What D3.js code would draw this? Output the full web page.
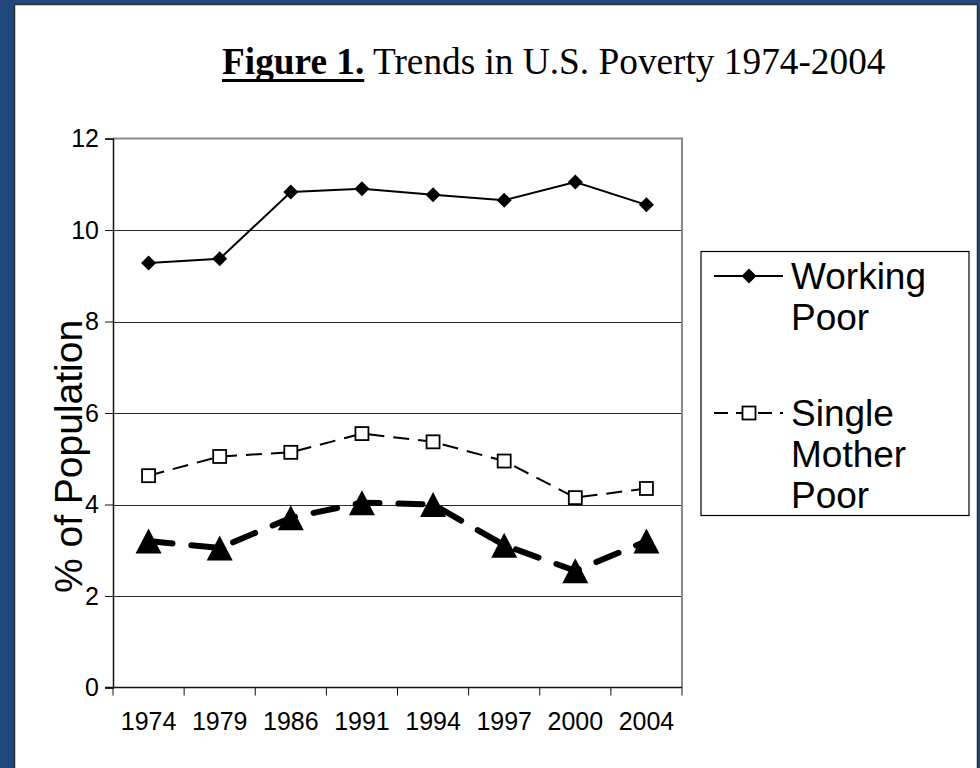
<!DOCTYPE html>
<html>
<head>
<meta charset="utf-8">
<script src="https://cdn.jsdelivr.net/npm/d3@7"></script>
<style>
  html, body { margin: 0; padding: 0; background: #1f497d; }
  svg { display: block; }
</style>
</head>
<body>
<svg id="chart" width="980" height="768"></svg>
<script>
// ---- data ----
const years = ["1974", "1979", "1986", "1991", "1994", "1997", "2000", "2004"];
const workingPoor = [9.28, 9.37, 10.83, 10.9, 10.77, 10.65, 11.05, 10.55];
const singleMotherPoor = [4.63, 5.05, 5.14, 5.55, 5.37, 4.95, 4.15, 4.35];
const seriesThree = [3.2, 3.05, 3.71, 4.04, 4.0, 3.11, 2.55, 3.2];
const yTicks = [0, 2, 4, 6, 8, 10, 12];
const legendLabels = [["Working", "Poor"], ["Single", "Mother", "Poor"]];

const svg = d3.select("#chart");
const SANS = "Arial, 'Liberation Sans', sans-serif";
const SERIF = "'Times New Roman', 'Liberation Serif', serif";

// slide background and white panel
svg.append("rect").attr("x", 0).attr("y", 0).attr("width", 980).attr("height", 768).attr("fill", "#1f497d");
svg.append("rect").attr("x", 14.5).attr("y", 4.5).attr("width", 963).attr("height", 770)
  .attr("fill", "#ffffff").attr("stroke", "#2b2f36").attr("stroke-width", 1.5);

// title
const title = svg.append("g").attr("transform", "translate(222,74)");
const boldPart = title.append("text")
  .attr("font-family", SERIF).attr("font-size", 37.3).attr("font-weight", "bold")
  .attr("fill", "#000").text("Figure 1.");
const boldW = boldPart.node().getComputedTextLength();
title.append("rect").attr("x", 0).attr("y", 5).attr("width", boldW).attr("height", 3).attr("fill", "#000");
title.append("text").attr("x", boldW)
  .attr("font-family", SERIF).attr("font-size", 37.3).attr("fill", "#000")
  .attr("xml:space", "preserve")
  .text(" Trends in U.S. Poverty 1974-2004");

// plot area
const plot = { left: 113, right: 682, top: 138.5, bottom: 687.5 };
const x = d3.scaleBand().domain(years).range([plot.left, plot.right]).padding(0);
const y = d3.scaleLinear().domain([0, 12]).range([plot.bottom, plot.top]);
const cx = d => x(d) + x.bandwidth() / 2;

// gridlines
svg.append("g").selectAll("line").data(yTicks.filter(t => t > 0 && t < 12)).join("line")
  .attr("x1", plot.left).attr("x2", plot.right)
  .attr("y1", d => Math.round(y(d)) + 0.5).attr("y2", d => Math.round(y(d)) + 0.5)
  .attr("stroke", "#2a2a2a").attr("stroke-width", 1);

// plot border (top and right in gray)
svg.append("path")
  .attr("d", `M${plot.left},${plot.top}H${plot.right}V${plot.bottom}`)
  .attr("fill", "none").attr("stroke", "#8a8a8a").attr("stroke-width", 2);

// y axis
const yAxis = d3.axisLeft(y).tickValues(yTicks).tickSize(8).tickPadding(6);
const gy = svg.append("g").attr("transform", `translate(${plot.left},0)`).call(yAxis)
  .attr("font-size", null).attr("font-family", null);
gy.select(".domain").attr("stroke", "#111").attr("stroke-width", 1.5);
gy.selectAll(".tick line").attr("stroke", "#111").attr("stroke-width", 1);
gy.selectAll(".tick text")
  .style("font-family", SANS).style("font-size", "25px").attr("fill", "#000");

// x axis (ticks on category boundaries)
const gx = svg.append("g").attr("transform", `translate(0,${plot.bottom})`);
gx.append("line").attr("x1", plot.left - 8).attr("x2", plot.right)
  .attr("y1", 0).attr("y2", 0).attr("stroke", "#111").attr("stroke-width", 1.5);
const bounds = years.map(d => x(d)).concat([plot.right]);
gx.selectAll("line.tk").data(bounds).join("line").attr("class", "tk")
  .attr("x1", d => d).attr("x2", d => d).attr("y1", 0).attr("y2", 8)
  .attr("stroke", "#111").attr("stroke-width", 1);
gx.selectAll("text").data(years).join("text")
  .attr("x", d => cx(d)).attr("y", 42)
  .attr("text-anchor", "middle")
  .style("font-family", SANS).style("font-size", "25px").attr("fill", "#000")
  .text(d => d);

// y axis title
svg.append("text")
  .attr("transform", `translate(82,${y(5.05)}) rotate(-90)`)
  .attr("text-anchor", "middle")
  .style("font-family", SANS).style("font-size", "39px").attr("fill", "#000")
  .text("% of Population");

// marker shapes
const diamondPath = r => `M0,${-r}L${r},0L0,${r}L${-r},0Z`;
const trianglePath = (w, h) => `M0,${-h / 2}L${w / 2},${h / 2}L${-w / 2},${h / 2}Z`;

const line = d3.line().x(d => cx(d.year)).y(d => y(d.value));
const toPts = vals => years.map((yr, i) => ({ year: yr, value: vals[i] }));

// third series: heavy dashed line with triangles
const s3 = toPts(seriesThree);
svg.append("path").datum(s3).attr("d", line)
  .attr("fill", "none").attr("stroke", "#000").attr("stroke-width", 6)
  .attr("stroke-dasharray", "24,19").attr("stroke-linecap", "round");
svg.append("g").selectAll("path").data(s3).join("path")
  .attr("transform", d => `translate(${cx(d.year)},${y(d.value)})`)
  .attr("d", trianglePath(26, 25)).attr("fill", "#000");

// single mother poor: dashed line with open squares
const s2 = toPts(singleMotherPoor);
svg.append("path").datum(s2).attr("d", line)
  .attr("fill", "none").attr("stroke", "#000").attr("stroke-width", 2)
  .attr("stroke-dasharray", "16,9");
svg.append("g").selectAll("rect").data(s2).join("rect")
  .attr("x", d => cx(d.year) - 6.5).attr("y", d => y(d.value) - 6.5)
  .attr("width", 13).attr("height", 13)
  .attr("fill", "#fff").attr("stroke", "#000").attr("stroke-width", 1.8);

// working poor: solid line with diamonds
const s1 = toPts(workingPoor);
svg.append("path").datum(s1).attr("d", line)
  .attr("fill", "none").attr("stroke", "#000").attr("stroke-width", 2);
svg.append("g").selectAll("path").data(s1).join("path")
  .attr("transform", d => `translate(${cx(d.year)},${y(d.value)})`)
  .attr("d", diamondPath(7.5)).attr("fill", "#000");

// legend
const legend = svg.append("g");
legend.append("rect").attr("x", 701).attr("y", 251.5).attr("width", 268).attr("height", 264)
  .attr("fill", "#fff").attr("stroke", "#000").attr("stroke-width", 1.2);

const lx1 = 714, lx2 = 783, lmid = 749, tx = 791, lineGap = 41;
const entryY = [276, 413];

// entry 1
legend.append("line").attr("x1", lx1).attr("x2", lx2).attr("y1", entryY[0]).attr("y2", entryY[0])
  .attr("stroke", "#000").attr("stroke-width", 2);
legend.append("path").attr("transform", `translate(${lmid},${entryY[0]})`)
  .attr("d", diamondPath(7.5)).attr("fill", "#000");

// entry 2
legend.append("line").attr("x1", lx1).attr("x2", lx2).attr("y1", entryY[1]).attr("y2", entryY[1])
  .attr("stroke", "#000").attr("stroke-width", 2).attr("stroke-dasharray", "14,8");
legend.append("rect").attr("x", lmid - 6.5).attr("y", entryY[1] - 6.5).attr("width", 13).attr("height", 13)
  .attr("fill", "#fff").attr("stroke", "#000").attr("stroke-width", 1.8);

legendLabels.forEach((lines, i) => {
  const t = legend.append("text")
    .attr("x", tx).attr("y", entryY[i] + 13)
    .style("font-family", SANS).style("font-size", "37px").attr("fill", "#000");
  lines.forEach((s, j) => {
    t.append("tspan").attr("x", tx).attr("dy", j === 0 ? 0 : lineGap).text(s);
  });
});
</script>
</body>
</html>
